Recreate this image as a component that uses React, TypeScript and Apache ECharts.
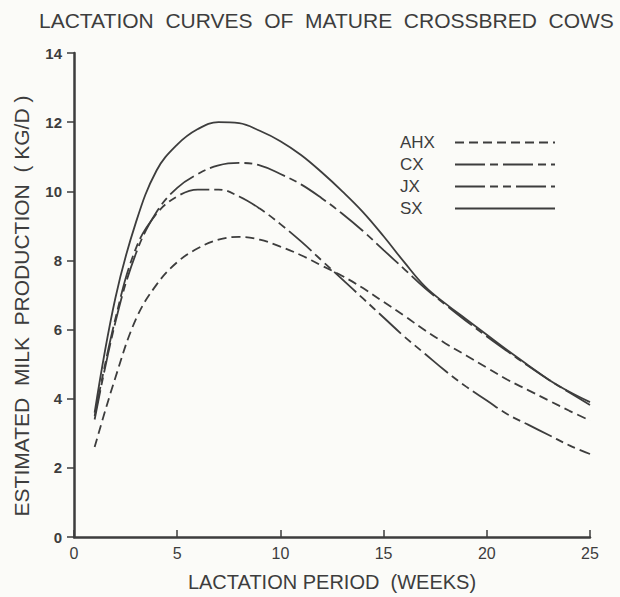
import React, { useEffect, useRef } from "react";
import * as echarts from "echarts";

const weeks = [1, 2, 3, 4, 5, 6, 7, 8, 9, 10, 11, 12, 13, 14, 15, 16, 17, 18, 19, 20, 21, 22, 23, 24, 25];
const ahx = [2.6, 4.6, 6.3, 7.3, 7.95, 8.35, 8.6, 8.68, 8.6, 8.4, 8.15, 7.85, 7.55, 7.2, 6.8, 6.4, 5.98, 5.6, 5.25, 4.9, 4.55, 4.25, 3.95, 3.65, 3.37];
const cx = [3.4, 6.2, 8.2, 9.4, 10.1, 10.5, 10.75, 10.82, 10.75, 10.5, 10.2, 9.8, 9.35, 8.85, 8.3, 7.75, 7.2, 6.72, 6.25, 5.8, 5.37, 4.95, 4.55, 4.18, 3.82];
const jx = [3.5, 6.3, 8.35, 9.35, 9.85, 10.05, 10.05, 9.85, 9.5, 9.05, 8.55, 8.0, 7.45, 6.9, 6.35, 5.8, 5.3, 4.8, 4.35, 3.95, 3.55, 3.25, 2.95, 2.65, 2.4];
const sx = [3.6, 6.9, 9.1, 10.6, 11.35, 11.8, 12.0, 11.97, 11.75, 11.45, 11.05, 10.55, 10.0, 9.4, 8.7, 7.95, 7.25, 6.75, 6.3, 5.85, 5.4, 4.97, 4.55, 4.2, 3.9];
const seriesNames = ["AHX", "CX", "JX", "SX"];
const xTicks = [0, 5, 10, 15, 20, 25];
const yTicks = [0, 2, 4, 6, 8, 10, 12, 14];

const INK = "#3d3d3d";
const FONT = "Liberation Sans";

export default function App() {
  const ref = useRef<HTMLDivElement>(null);
  useEffect(() => {
    if (!ref.current) return;
    const chart = echarts.init(ref.current, undefined, { renderer: "svg" });
    const values = [ahx, cx, jx, sx];
    const dashes: any[] = [[9, 5], [30, 5, 8, 5], [30, 5, 8, 5, 8, 5], "solid"];
    chart.setOption({
      animation: false,
      backgroundColor: "#fbfbf8",
      title: {
        text: "LACTATION  CURVES  OF  MATURE  CROSSBRED  COWS",
        left: 34,
        top: 5,
        textStyle: { fontFamily: FONT, fontSize: 21, fontWeight: "normal", color: INK },
      },
      legend: {
        orient: "vertical",
        left: 395,
        top: 129,
        align: "right",
        itemWidth: 100,
        itemHeight: 14,
        itemGap: 5,
        data: seriesNames,
        itemStyle: { opacity: 0 },
        formatter: (n: string) => `{a|${n}}`,
        textStyle: {
          fontFamily: FONT,
          fontSize: 17,
          color: INK,
          rich: { a: { width: 50, align: "left", fontFamily: FONT, fontSize: 17, color: INK } },
        },
      },
      grid: { left: 74, right: 30, top: 53, bottom: 60 },
      xAxis: {
        type: "value",
        min: 0,
        max: 25,
        interval: 5,
        name: "LACTATION PERIOD  (WEEKS)",
        nameLocation: "middle",
        nameGap: 35,
        nameTextStyle: { fontFamily: FONT, fontSize: 20, color: INK },
        axisLine: { lineStyle: { color: INK, width: 2.5 } },
        axisTick: { inside: true, length: 7, lineStyle: { color: INK, width: 1.5 } },
        axisLabel: {
          fontFamily: FONT,
          fontSize: 16,
          color: INK,
          margin: 8,
          formatter: (v: number) => (xTicks.includes(v) ? String(v) : ""),
        },
        splitLine: { show: false },
      },
      yAxis: {
        type: "value",
        min: 0,
        max: 14,
        interval: 2,
        name: "ESTIMATED  MILK  PRODUCTION  ( KG/D )",
        nameLocation: "middle",
        nameGap: 42,
        nameTextStyle: { fontFamily: FONT, fontSize: 21, color: INK, padding: [0, 22, 0, 0] },
        axisLine: { lineStyle: { color: INK, width: 2.5 } },
        axisTick: { length: 7, lineStyle: { color: INK, width: 1.5 } },
        axisLabel: {
          fontFamily: FONT,
          fontSize: 15,
          fontWeight: "bold",
          color: INK,
          margin: 12,
          formatter: (v: number) => (yTicks.includes(v) ? String(v) : ""),
        },
        splitLine: { show: false },
      },
      series: seriesNames.map((name, i) => ({
        name,
        type: "line",
        smooth: 0.4,
        symbol: "none",
        data: weeks.map((w, j) => [w, values[i][j]]),
        lineStyle: { color: INK, width: 1.8, type: dashes[i] },
        itemStyle: { color: INK },
      })),
    });
    return () => chart.dispose();
  }, []);
  return <div ref={ref} style={{ position: "absolute", left: 0, top: 0, width: 620, height: 597 }} />;
}
